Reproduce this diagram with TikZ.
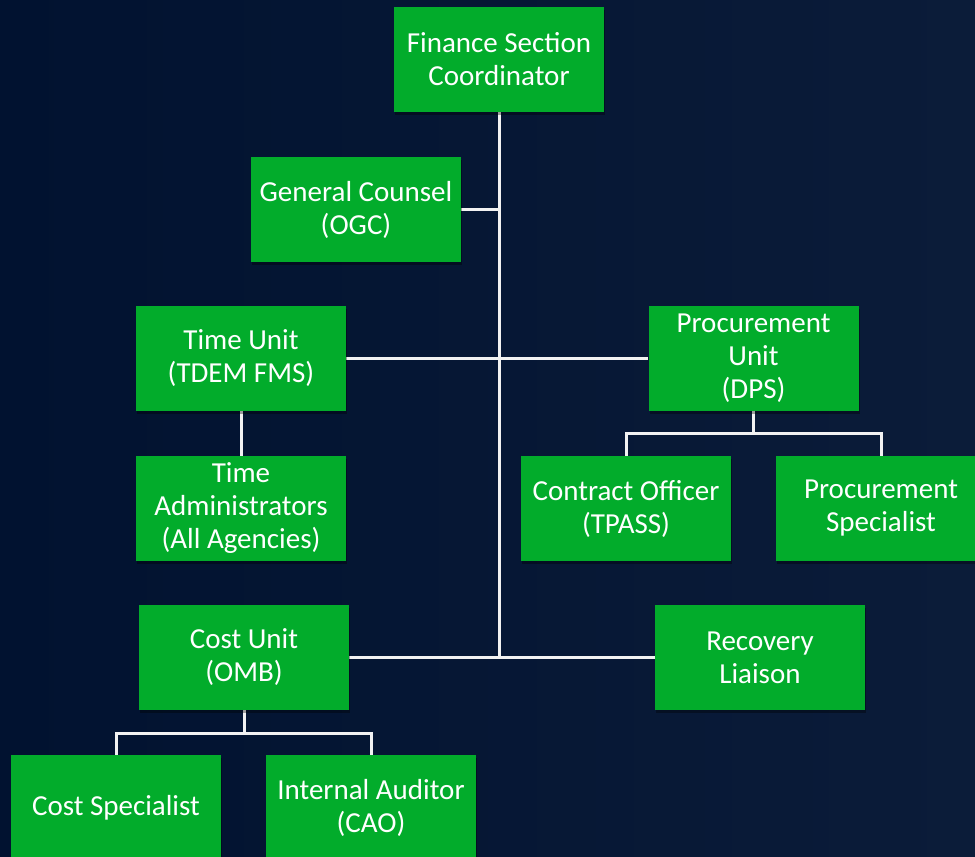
\documentclass[tikz,border=0pt]{standalone}
\usepackage{fontspec}
\setmainfont{Carlito}
\usetikzlibrary{shadows}
\definecolor{bgtop}{HTML}{011230}
\definecolor{bgbot}{HTML}{0B1C39}
\definecolor{boxgreen}{HTML}{02AC2B}
\definecolor{linewhite}{HTML}{F2F2F2}
\pgfdeclarelayer{bg}
\pgfdeclarelayer{lines}
\pgfsetlayers{bg,lines,main}
\begin{document}
\begin{tikzpicture}[x=1pt,y=-1pt,
  orgbox/.style={fill=boxgreen, text=white, minimum width=210pt, minimum height=105pt,
    inner sep=0pt, align=center, font=\fontsize{29}{33}\selectfont,
    drop shadow={shadow xshift=1pt, shadow yshift=-3pt, opacity=0.35, fill=black}},
  conn/.style={draw=linewhite, line width=3pt}]
\useasboundingbox (0,0) rectangle (975,857);
\clip (0,0) rectangle (975,857);
\begin{pgfonlayer}{bg}
\shade[shading angle=135, left color=bgtop, right color=bgbot] (0,0) rectangle (975,857);
\end{pgfonlayer}
\node[orgbox] (fin) at (499,59.5) {Finance Section\\Coordinator};
\node[orgbox] (ogc) at (356,209.5) {General Counsel\\(OGC)};
\node[orgbox] (time) at (241,358.5) {Time Unit\\(TDEM FMS)};
\node[orgbox] (proc) at (753.5,358.5) {Procurement\\Unit\\(DPS)};
\node[orgbox] (tadm) at (241,508.5) {Time\\Administrators\\(All Agencies)};
\node[orgbox] (co) at (626,508.5) {Contract Officer\\(TPASS)};
\node[orgbox] (ps) at (881,508.5) {Procurement\\Specialist};
\node[orgbox] (cost) at (244,657.5) {Cost Unit\\(OMB)};
\node[orgbox] (rec) at (760,657.5) {Recovery\\Liaison};
\node[orgbox] (cs) at (116,807.5) {Cost Specialist};
\node[orgbox] (ia) at (371,807.5) {Internal Auditor\\(CAO)};
% connectors
\coordinate (trunkbot) at (499,657.5);
\coordinate (pdn) at (753.5,433);
\coordinate (cdn) at (244,733);
\begin{pgfonlayer}{lines}
\draw[conn] (fin.south) -- (trunkbot);
\draw[conn] (ogc.east) -- (ogc.east -| fin.south);
\draw[conn] (time.east) -- (proc.west);
\draw[conn] (cost.east) -- (rec.west);
\draw[conn] (time.south) -- (tadm.north);
\draw[conn] (proc.south) -- (pdn);
\draw[conn] (co.north) |- (pdn) -| (ps.north);
\draw[conn] (cost.south) -- (cdn);
\draw[conn] (cs.north) |- (cdn) -| (ia.north);
\end{pgfonlayer}
\end{tikzpicture}
\end{document}
